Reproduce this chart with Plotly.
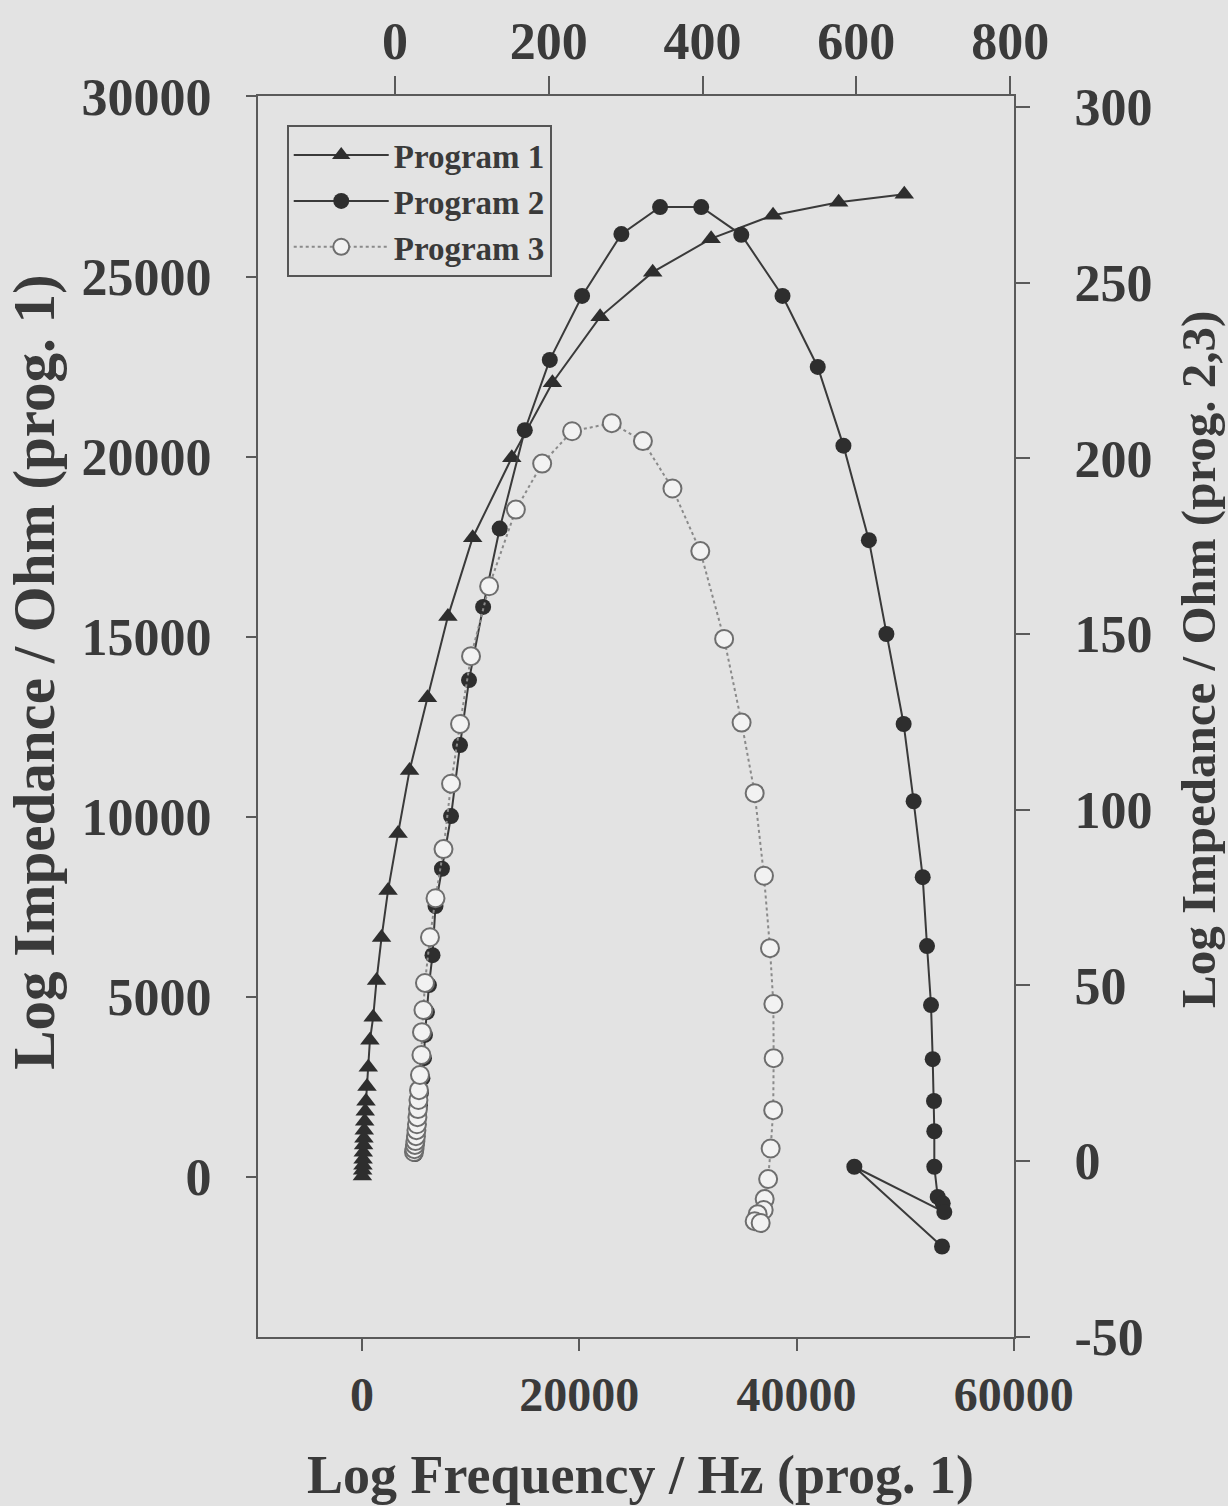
import plotly.graph_objects as go

# Program 1 (bottom x axis, left y axis)
p1_freq = [40, 60, 90, 100, 120, 150, 180, 210, 250, 300, 370, 460, 580, 730, 1030,
           1340, 1800, 2400, 3320, 4380, 6030, 7910, 10190, 13790, 17530, 21920,
           26760, 32140, 37840, 43880, 49920]
p1_imp = [30, 190, 330, 500, 690, 890, 1080, 1300, 1550, 1830, 2110, 2520, 3050, 3800,
          4440, 5460, 6650, 7960, 9540, 11290, 13310, 15560, 17750, 19970, 22050,
          23880, 25120, 26050, 26700, 27060, 27280]

# Program 2 (top x axis, right y axis)
p2_freq = [26.1, 26.7, 27.4, 28.0, 28.7, 30.0, 31.3, 32.6, 33.9, 35.8, 37.8, 39.1, 41.7,
           44.3, 48.9, 52.8, 61.2, 73.0, 84.7, 96.4, 114.7, 136.3, 168.9, 201.4, 243.4,
           294.5, 344.8, 398.3, 450.4, 504.0, 549.8, 583.2, 616.3, 639.1, 661.5, 674.5,
           686.3, 691.9, 697.1, 699.3, 701.0, 701.4, 701.4, 705.8, 712.3, 714.4, 597.4,
           711.4]
p2_imp = [2.0, 3.1, 4.6, 6.3, 8.3, 10.5, 13.1, 15.9, 19.4, 23.6, 29.3, 35.9, 42.4, 50.1,
          58.6, 72.6, 83.2, 98.2, 118.4, 136.9, 157.7, 180.0, 208.0, 228.0, 246.2, 263.8,
          271.5, 271.5, 263.6, 246.2, 226.0, 203.6, 176.7, 150.0, 124.4, 102.4, 80.8,
          61.2, 44.4, 29.0, 17.1, 8.5, -1.6, -10.2, -12.0, -14.5, -1.6, -24.3]

# Program 3 (top x axis, right y axis)
p3_freq = [24.8, 25.4, 26.1, 26.7, 27.4, 28.0, 28.7, 29.3, 30.0, 30.6, 31.3, 32.6, 34.5,
           35.2, 37.1, 39.1, 45.6, 52.8, 63.2, 73.0, 84.7, 99.0, 122.5, 157.3, 191.5,
           230.4, 282.0, 322.5, 360.9, 397.1, 428.1, 450.8, 467.8, 479.9, 487.7, 492.1,
           492.5, 491.9, 488.6, 485.3, 480.8, 479.5, 471.7, 467.8, 475.6]
p3_imp = [2.6, 3.4, 4.6, 5.7, 7.1, 8.8, 10.5, 12.5, 14.8, 17.4, 20.2, 24.5, 30.2, 36.7,
          43.0, 50.7, 63.7, 74.8, 88.8, 107.4, 124.4, 143.7, 163.6, 185.4, 198.5, 207.7,
          210.0, 204.9, 191.4, 173.6, 148.6, 124.8, 104.7, 81.2, 60.6, 44.7, 29.3, 14.5,
          3.6, -5.1, -10.8, -13.9, -15.1, -17.1, -17.6]

bottom_ticks = [0, 20000, 40000, 60000]
bottom_labels = ["0", "20000", "40000", "60000"]
top_ticks = [0, 200, 400, 600, 800]
top_labels = ["0", "200", "400", "600", "800"]
left_ticks = [0, 5000, 10000, 15000, 20000, 25000, 30000]
left_labels = ["0", "5000", "10000", "15000", "20000", "25000", "30000"]
right_ticks = [-50, 0, 50, 100, 150, 200, 250, 300]
right_labels = ["-50", "0", "50", "100", "150", "200", "250", "300"]

BG = "#e3e3e3"
INK = "#3a3a3a"
AX = "#5a5a5a"
FONT = "Liberation Serif"

fig = go.Figure()
fig.add_trace(go.Scatter(
    x=p1_freq, y=p1_imp, name="Program 1", mode="lines+markers",
    xaxis="x", yaxis="y",
    line=dict(color="#3a3a3a", width=2),
    marker=dict(symbol="triangle-up", size=17, color="#2e2e2e")))
fig.add_trace(go.Scatter(
    x=p2_freq, y=p2_imp, name="Program 2", mode="lines+markers",
    xaxis="x2", yaxis="y2",
    line=dict(color="#3a3a3a", width=2),
    marker=dict(symbol="circle", size=16, color="#2e2e2e")))
fig.add_trace(go.Scatter(
    x=p3_freq, y=p3_imp, name="Program 3", mode="lines+markers",
    xaxis="x2", yaxis="y2",
    line=dict(color="#8a8a8a", width=2, dash="dot"),
    marker=dict(symbol="circle", size=18, color="#f2f2f2",
                line=dict(color="#6e6e6e", width=2))))

tickfont = dict(family=FONT, size=52, color=INK, weight="bold")
axis_common = dict(showline=True, linecolor=AX, linewidth=2, ticks="outside",
                   tickcolor=AX, tickwidth=2, showgrid=False, zeroline=False,
                   automargin=False, tickmode="array")

fig.update_layout(
    width=1228, height=1506,
    paper_bgcolor=BG, plot_bgcolor=BG,
    margin=dict(l=258, r=214, t=96, b=169, autoexpand=False),
    showlegend=True,
    legend=dict(x=0.038, y=0.9766, xanchor="left", yanchor="top",
                bgcolor=BG, bordercolor="#555555", borderwidth=2,
                font=dict(family=FONT, size=33, color=INK, weight="bold"),
                itemwidth=95, tracegroupgap=4),
    xaxis=dict(range=[-9572, 60020], tickvals=bottom_ticks, ticktext=bottom_labels,
               ticklen=12,
               tickfont=dict(family=FONT, size=48, color=INK, weight="bold"),
               ticklabelstandoff=2, **axis_common),
    xaxis2=dict(range=[-178, 805], tickvals=top_ticks, ticktext=top_labels,
                overlaying="x", side="top",
                anchor="y", ticklen=18, tickfont=tickfont, ticklabelstandoff=-4,
                **axis_common),
    yaxis=dict(range=[-4436, 30010], tickvals=left_ticks, ticktext=left_labels,
               ticklen=10, tickfont=tickfont, ticklabelstandoff=24, **axis_common),
    yaxis2=dict(range=[-50.05, 303.1], tickvals=right_ticks, ticktext=right_labels,
                overlaying="y",
                side="right", anchor="x", ticklen=14, tickfont=tickfont,
                ticklabelstandoff=34, **axis_common),
    annotations=[
        dict(text="Log Impedance / Ohm (prog. 1)", xref="paper", yref="paper",
             x=-0.2963, y=0.536, textangle=-90, showarrow=False,
             xanchor="center", yanchor="middle",
             font=dict(family=FONT, size=59, color=INK, weight="bold")),
        dict(text="Log Impedance / Ohm (prog. 2,3)", xref="paper", yref="paper",
             x=1.2434, y=0.5455, textangle=-90, showarrow=False,
             xanchor="center", yanchor="middle",
             font=dict(family=FONT, size=49, color=INK, weight="bold")),
        dict(text="Log Frequency / Hz (prog. 1)", xref="paper", yref="paper",
             x=0.5053, y=-0.1112, showarrow=False,
             xanchor="center", yanchor="middle",
             font=dict(family=FONT, size=54, color=INK, weight="bold")),
    ],
)

fig.write_html(
    "out.html",
    config={"displayModeBar": False},
    post_script="document.body.style.margin='0';document.body.style.background='#e3e3e3';",
)
